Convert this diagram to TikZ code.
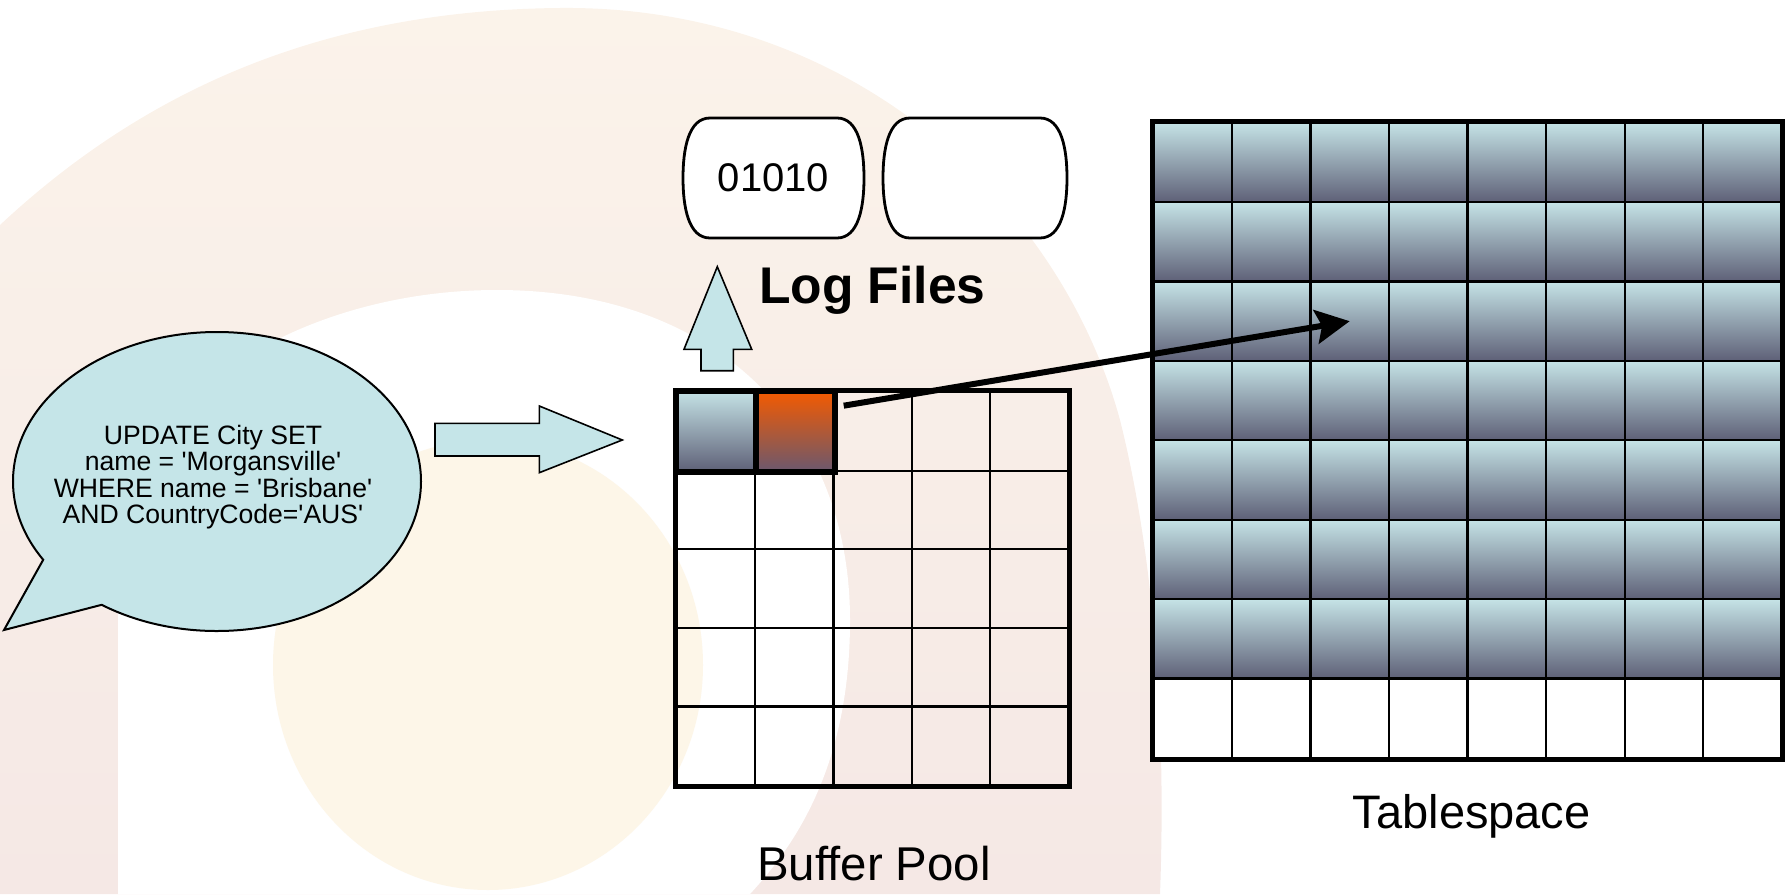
\documentclass[tikz,border=0pt]{standalone}
\usepackage{fontspec}
\setmainfont{Liberation Sans}
\usetikzlibrary{shapes.callouts,arrows.meta}

\definecolor{bulle}{RGB}{197,229,232}
\definecolor{pagehaut}{RGB}{197,227,230}
\definecolor{pagebas}{RGB}{94,96,119}
\definecolor{salehaut}{RGB}{244,90,0}
\definecolor{salebas}{RGB}{107,88,110}
\definecolor{fondrose}{RGB}{245,232,229}
\definecolor{fondpeche}{RGB}{251,243,234}
\definecolor{fondjaune}{RGB}{253,246,232}
\newcommand{\apos}{\textquotesingle}

\begin{document}
\begin{tikzpicture}[x=0.5pt,y=-0.5pt]
\tikzset{cellule/.style={draw, line width=1.1pt, minimum width=39.1pt, minimum height=39.3pt, inner sep=0pt},
pleine/.style={top color=pagehaut, bottom color=pagebas},
fleche/.style={draw, line width=0.8pt, fill=bulle},
disque/.style={draw, line width=1.4pt, fill=white}}
\useasboundingbox (0,0) rectangle (1787,894);
\shade[top color=fondpeche, bottom color=fondrose] (0,225) .. controls (150,85) and (330,10) .. (560,8) .. controls (850,5) and (1060,200) .. (1120,420) .. controls (1160,580) and (1165,760) .. (1160,894) -- (0,894) -- cycle;
\fill[white] (118,894) -- (118,560) .. controls (118,400) and (300,290) .. (497,290) .. controls (720,290) and (850,430) .. (850,620) .. controls (850,760) and (800,840) .. (750,894) -- cycle;
\fill[fondjaune] (488,665) ellipse [x radius=215, y radius=225];

\node[ellipse callout, draw, line width=1pt, fill=bulle, minimum width=204pt, minimum height=149.5pt, inner sep=0pt, callout absolute pointer={(4,630)}, callout pointer arc=24] (requete) at (217,481.5) {};
\node[align=center, font=\fontsize{13.3}{13.2}\selectfont] (sql) at (213,477) {UPDATE City SET\\name = \apos Morgansville\apos\\WHERE name = \apos Brisbane\apos\\AND CountryCode=\apos AUS\apos};

\draw[fleche] (435,423.3) -- (539.3,423.3) -- (539.3,406) -- (622.3,440) -- (539.3,472.7) -- (539.3,456) -- (435,456) -- cycle;
\draw[fleche] (701,370.7) -- (701,349.3) -- (684,349.3) -- (717.3,266.7) -- (751.7,349.3) -- (733.3,349.3) -- (733.3,370.7) -- cycle;

\foreach \x/\w in {683/181,883/184}
  \draw[disque] (\x+27,118) -- (\x+\w-27,118) .. controls (\x+\w-5,118) and (\x+\w,150) .. (\x+\w,178) .. controls (\x+\w,206) and (\x+\w-5,238) .. (\x+\w-27,238) -- (\x+27,238) .. controls (\x+5,238) and (\x,206) .. (\x,178) .. controls (\x,150) and (\x+5,118) .. (\x+27,118) -- cycle;
\node[font=\fontsize{20}{24}\selectfont] (log1) at (773.5,178) {01010};
\node[anchor=base west, font=\bfseries\fontsize{25.8}{30}\selectfont] (logfiles) at (752,303) {Log Files};

\foreach \r in {0,...,6}
  \foreach \c in {0,...,7}
    \node[cellule, pleine, minimum width=39.3pt, minimum height=39.7pt] (t-\r-\c) at ({1192.6+78.55*\c},{162.4+79.4*\r}) {};
\foreach \c in {0,...,7}
  \node[cellule, fill=white, minimum width=39.3pt, minimum height=39.7pt] (t-7-\c) at ({1192.6+78.55*\c},{718.2}) {};
\draw[line width=2.5pt] (t-0-0.north west) rectangle (t-7-7.south east);
\node[anchor=base, font=\fontsize{23.5}{28}\selectfont] (espace) at (1471.7,828) {Tablespace};

\foreach \r in {0,...,4}
  \foreach \c in {0,...,4}
    \node[cellule] (b-\r-\c) at ({716.1+78.2*\c},{431.3+78.6*\r}) {};
\shade[pleine] (b-0-0.north west) rectangle (b-0-0.south east);
\shade[top color=salehaut, bottom color=salebas] (b-0-1.north west) rectangle (b-0-1.south east);
\draw[line width=3pt] (b-0-0.north west) rectangle (b-0-1.south east) (b-0-0.north east) -- (b-0-0.south east);
\draw[line width=2.5pt] (b-0-0.north west) rectangle (b-4-4.south east);
\node[anchor=base, font=\fontsize{23.7}{28}\selectfont] (tampon) at (874,880) {Buffer Pool};

\draw[line width=3pt, -{Stealth[length=17pt, width=17pt, inset=3pt]}] ([xshift=4.6pt, yshift=-7.4pt]b-0-1.north east) -- (t-2-2.center);
\end{tikzpicture}
\end{document}
